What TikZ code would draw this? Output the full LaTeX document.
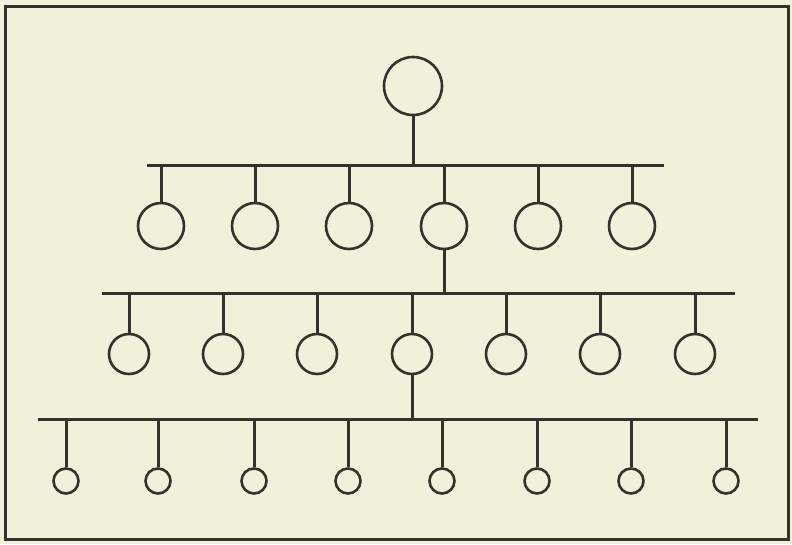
\documentclass[tikz,border=0pt]{standalone}
\usepackage{tikz}
\definecolor{papercolor}{HTML}{F2F0DA}
\definecolor{inkcolor}{HTML}{33332C}

\begin{document}
\begin{tikzpicture}[x=1pt,y=-1pt,
    member/.style={circle,draw=inkcolor,line width=2.6pt,inner sep=0pt},
    wire/.style={draw=inkcolor,line width=3pt}]
\fill[papercolor] (0,0) rectangle (792,544);
\draw[inkcolor,line width=3pt] (5,6) rectangle (788,539);
% head of the tree
\node[member,minimum size=58pt] (head) at (413,86) {};
\coordinate (bar1l) at (147,165);
\coordinate (bar1r) at (664,165);
\draw[wire] (bar1l) -- (bar1r);
\draw[wire] (head.south) -- (head.south |- bar1l);
% first row
\foreach \x [count=\i] in {161,255,349,444,538,632} {
  \node[member,minimum size=46pt] (a\i) at (\x,226) {};
  \draw[wire] (a\i.north) -- (a\i.north |- bar1l);
}
\coordinate (bar2l) at (102,293);
\coordinate (bar2r) at (735,293);
\draw[wire] (bar2l) -- (bar2r);
\draw[wire] (a4.south) -- (a4.south |- bar2l);
% second row
\foreach \x [count=\i] in {129,223,317,412,506,600,695} {
  \node[member,minimum size=40pt] (b\i) at (\x,354) {};
  \draw[wire] (b\i.north) -- (b\i.north |- bar2l);
}
\coordinate (bar3l) at (38,419);
\coordinate (bar3r) at (758,419);
\draw[wire] (bar3l) -- (bar3r);
\draw[wire] (b4.south) -- (b4.south |- bar3l);
% third row
\foreach \x [count=\i] in {66,158,254,348,442,537,631,726} {
  \node[member,minimum size=25pt] (c\i) at (\x,481) {};
  \draw[wire] (c\i.north) -- (c\i.north |- bar3l);
}
\end{tikzpicture}
\end{document}
